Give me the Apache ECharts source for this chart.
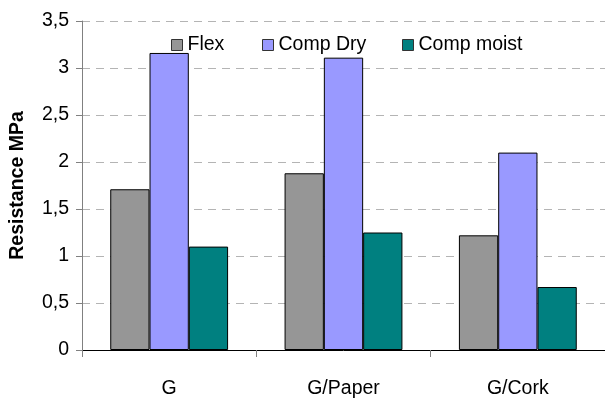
<!DOCTYPE html>
<html>
<head>
<meta charset="utf-8">
<script src="https://cdn.jsdelivr.net/npm/echarts@6/dist/echarts.min.js"></script>
<style>
  html, body { margin: 0; padding: 0; background: #fff; }
  #chart { width: 605px; height: 403px; }
</style>
</head>
<body>
<div id="chart"></div>
<script>
// Materials tested
const categories = ['G', 'G/Paper', 'G/Cork'];

// Resistance (MPa) per test
const flex = [1.71, 1.88, 1.22];
const compDry = [3.16, 3.11, 2.1];
const compMoist = [1.1, 1.25, 0.67];

const seriesNames = ['Flex', 'Comp Dry', 'Comp moist'];
const seriesColors = ['#969696', '#9999FF', '#008080'];

const FONT = 'Liberation Sans, Arial, sans-serif';
const FS = 19.5;

const chart = echarts.init(document.getElementById('chart'));

function legendAt(name, left) {
  return {
    data: [name],
    left: left,
    top: 30,
    itemWidth: 11,
    itemHeight: 11,
    itemGap: 0,
    icon: 'rect',
    selectedMode: false,
    textStyle: { fontFamily: FONT, fontSize: FS, color: '#000' },
    itemStyle: { borderColor: '#333', borderWidth: 1 }
  };
}

const values = [flex, compDry, compMoist];

chart.setOption({
  animation: false,
  backgroundColor: '#fff',
  legend: [
    legendAt(seriesNames[0], 166),
    legendAt(seriesNames[1], 257),
    legendAt(seriesNames[2], 397)
  ],
  grid: { left: 82, top: 21, width: 526, height: 329 },
  xAxis: {
    type: 'category',
    data: categories,
    axisLine: { lineStyle: { color: '#000', width: 1 } },
    axisTick: { show: true, length: 7, lineStyle: { color: '#808080' } },
    axisLabel: { fontFamily: FONT, fontSize: FS, color: '#000', margin: 29 },
    splitLine: { show: false }
  },
  yAxis: {
    type: 'value',
    min: 0,
    max: 3.5,
    interval: 0.5,
    name: 'Resistance MPa',
    nameLocation: 'middle',
    nameGap: 54,
    nameTextStyle: { fontFamily: FONT, fontSize: FS, fontWeight: 'bold', color: '#000' },
    axisLine: { show: true, lineStyle: { color: '#808080', width: 1 } },
    axisTick: { show: true, length: 6, lineStyle: { color: '#808080' } },
    axisLabel: {
      fontFamily: FONT, fontSize: FS, color: '#000', margin: 13,
      formatter: v => String(v).replace('.', ',')
    },
    splitLine: { show: true, lineStyle: { color: '#b4b4b4', type: [8, 6], width: 1 } }
  },
  series: seriesNames.map((name, i) => ({
    name: name,
    type: 'bar',
    data: values[i],
    barGap: '0%',
    barCategoryGap: '32.4%',
    itemStyle: { color: seriesColors[i], borderColor: '#000', borderWidth: 1 }
  }))
});
</script>
</body>
</html>
